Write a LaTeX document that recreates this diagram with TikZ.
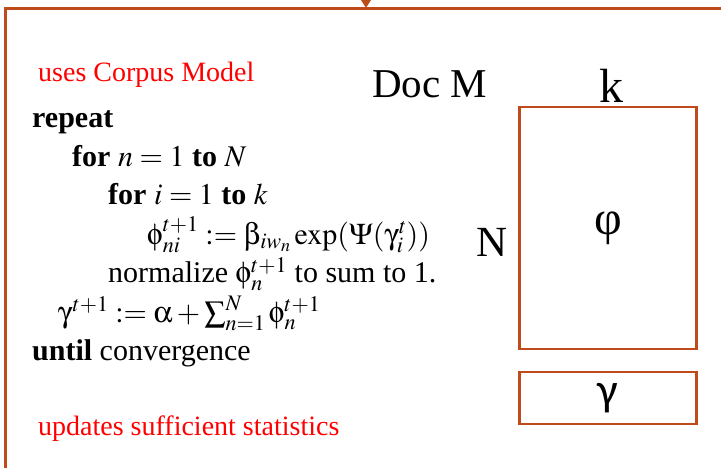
\documentclass[tikz,border=0pt]{standalone}
\usepackage{mathptmx}
\usepackage[Symbol]{upgreek}
\usepackage[no-math]{fontspec}
\setmainfont{Liberation Serif}
\newfontfamily\calfont{Carlito}
\usetikzlibrary{arrows.meta, positioning}
\definecolor{framerust}{RGB}{190, 75, 25}
\definecolor{notered}{RGB}{255, 0, 0}

\begin{document}
\begin{tikzpicture}[x=1pt, y=-1pt,
  algo/.style={anchor=base west, inner sep=0pt, font=\fontsize{30}{36}\selectfont},
  note/.style={anchor=base west, inner sep=0pt, text=notered, font=\fontsize{28}{34}\selectfont},
  mbox/.style={draw=framerust, line width=2.6pt, inner sep=0pt}]
  \useasboundingbox (0,0) rectangle (721,468);
  % outer frame, cut off by the page at the right and bottom
  \draw[framerust, line width=3pt] (5,8.5) rectangle (760,520);
  \coordinate (feed) at (366,-40);
  \coordinate (entry) at (366,8);
  \draw[framerust, line width=2pt, -{Triangle[width=12pt,length=10pt]}] (feed) -- (entry);

  % red remarks
  \node[note] (uses) at (38,82) {uses Corpus Model};
  \node[note] (updates) at (38,435) {updates sufficient statistics};

  % variational inference loop
  \node[algo] (rep) at (32,128) {\textbf{repeat}};
  \node[algo] (forn) at (72,167) {\textbf{for} $n=1$ \textbf{to} $N$};
  \node[algo] (fori) at (108,205) {\textbf{for} $i=1$ \textbf{to} $k$};
  \node[algo] (upd) at (147,244) {$\upphi_{ni}^{t+1} := \upbeta_{iw_n}\exp(\Psi(\upgamma_i^t))$};
  \node[algo] (norm) at (108,283) {normalize $\upphi_n^{t+1}$ to sum to 1.};
  \node[algo] (gam) at (58,322) {$\upgamma^{t+1} := \upalpha + \sum_{n=1}^{N} \upphi_n^{t+1}$};
  \node[algo] (until) at (32,360) {\textbf{until} convergence};

  % document matrices
  \node[anchor=base west, inner sep=0pt, font=\fontsize{41}{48}\selectfont] (docm) at (372,98) {Doc M};
  \node[mbox, minimum width=177, minimum height=242, font=\fontsize{48}{56}\selectfont] (phibox) at (608,228) {φ};
  \node[mbox, minimum width=177, minimum height=52, font=\calfont\fontsize{46}{54}\selectfont] (gambox) at (608,398) {γ};
  \node[anchor=base, inner sep=0pt, font=\fontsize{48}{56}\selectfont] (klabel) at (611,103) {k};
  \node[anchor=base east, inner sep=0pt, font=\fontsize{43}{50}\selectfont] (nlabel) at (508,257) {N};
\end{tikzpicture}
\end{document}
